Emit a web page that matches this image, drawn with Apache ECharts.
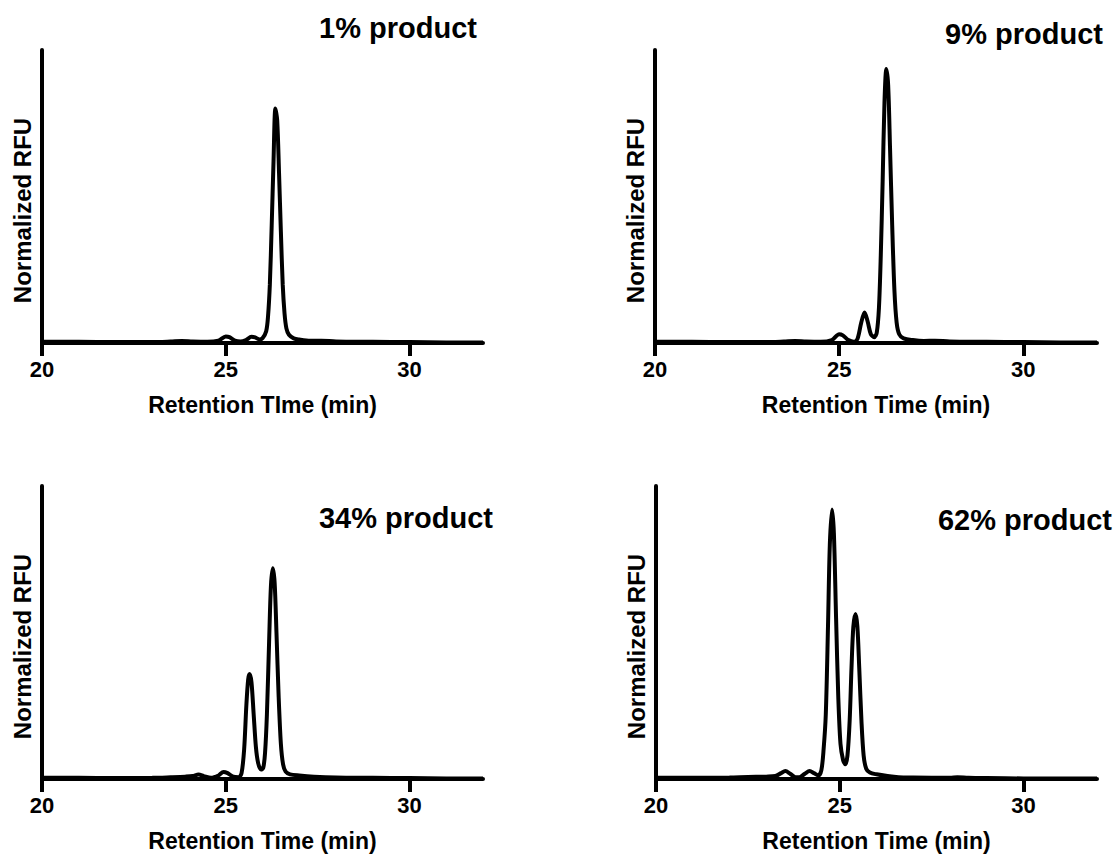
<!DOCTYPE html>
<html>
<head>
<meta charset="utf-8">
<script src="https://cdn.jsdelivr.net/npm/echarts@6/dist/echarts.min.js"></script>
<style>
html,body{margin:0;padding:0;background:#fff;}
#chart{width:1117px;height:855px;}
</style>
</head>
<body>
<div id="chart"></div>
<script>
// ---- data ----
const panelTitles = ['1% product', '9% product', '34% product', '62% product'];
const xAxisNames = ['Retention TIme (min)', 'Retention Time (min)', 'Retention Time (min)', 'Retention Time (min)'];
const yAxisName = 'Normalized RFU';
const xTickValues = [20, 25, 30];
const xRange = [20, 32];

const p1Time = [20, 21, 22, 23, 23.5, 23.8, 24.1, 24.5, 24.8, 25.0, 25.1, 25.25, 25.4, 25.55, 25.7, 25.8, 25.92, 26.0, 26.1, 26.15, 26.2, 26.25, 26.3, 26.35, 26.4, 26.45, 26.5, 26.55, 26.6, 26.65, 26.72, 26.85, 27.0, 27.3, 27.6, 28, 29, 30, 31, 32];
const p1Signal = [0.004, 0.004, 0.003, 0.003, 0.005, 0.007, 0.005, 0.004, 0.008, 0.022, 0.02, 0.008, 0.005, 0.01, 0.021, 0.019, 0.012, 0.016, 0.04, 0.09, 0.2, 0.4, 0.62, 0.8, 0.76, 0.58, 0.38, 0.2, 0.1, 0.05, 0.028, 0.016, 0.012, 0.008, 0.008, 0.005, 0.004, 0.003, 0.002, 0.002];

const p2Time = [20, 21, 22, 23, 23.5, 23.8, 24.1, 24.5, 24.8, 25.0, 25.1, 25.25, 25.4, 25.5, 25.6, 25.69, 25.77, 25.86, 25.95, 26.02, 26.08, 26.13, 26.18, 26.23, 26.28, 26.33, 26.38, 26.44, 26.5, 26.56, 26.63, 26.75, 27.0, 27.3, 27.6, 28, 29, 30, 31, 32];
const p2Signal = [0.004, 0.004, 0.003, 0.003, 0.005, 0.007, 0.005, 0.004, 0.01, 0.03, 0.026, 0.01, 0.004, 0.015, 0.07, 0.104, 0.075, 0.03, 0.02, 0.035, 0.12, 0.3, 0.55, 0.82, 0.935, 0.88, 0.67, 0.4, 0.18, 0.07, 0.03, 0.016, 0.01, 0.007, 0.008, 0.005, 0.004, 0.003, 0.002, 0.002];

const p3Time = [20, 21, 22, 23, 23.5, 23.9, 24.1, 24.26, 24.4, 24.6, 24.8, 24.94, 25.05, 25.2, 25.35, 25.43, 25.5, 25.56, 25.61, 25.65, 25.7, 25.76, 25.82, 25.88, 25.96, 26.02, 26.07, 26.12, 26.18, 26.23, 26.28, 26.33, 26.38, 26.44, 26.5, 26.56, 26.63, 26.75, 27.0, 27.4, 28, 29, 30, 31, 32];
const p3Signal = [0.004, 0.004, 0.003, 0.004, 0.006, 0.008, 0.01, 0.015, 0.01, 0.004, 0.012, 0.024, 0.02, 0.008, 0.006, 0.02, 0.1, 0.25, 0.34, 0.358, 0.33, 0.22, 0.11, 0.055, 0.032, 0.038, 0.09, 0.22, 0.47, 0.66, 0.719, 0.67, 0.5, 0.28, 0.12, 0.05, 0.025, 0.016, 0.012, 0.008, 0.005, 0.004, 0.003, 0.002, 0.002];

const p4Time = [20, 21, 22, 22.5, 23.0, 23.25, 23.4, 23.52, 23.65, 23.8, 23.9, 24.05, 24.18, 24.3, 24.42, 24.5, 24.56, 24.62, 24.68, 24.73, 24.79, 24.84, 24.9, 24.96, 25.02, 25.09, 25.15, 25.21, 25.27, 25.32, 25.37, 25.43, 25.48, 25.53, 25.59, 25.65, 25.72, 25.82, 26.0, 26.3, 26.6, 27.0, 28.0, 28.2, 28.5, 29, 30, 31, 32];
const p4Signal = [0.004, 0.004, 0.005, 0.007, 0.008, 0.01, 0.02, 0.027, 0.018, 0.006, 0.006, 0.018, 0.027, 0.02, 0.012, 0.03, 0.1, 0.22, 0.52, 0.8, 0.92, 0.84, 0.55, 0.28, 0.12, 0.065, 0.05, 0.08, 0.2, 0.38, 0.52, 0.563, 0.52, 0.38, 0.2, 0.08, 0.035, 0.022, 0.016, 0.01, 0.006, 0.005, 0.004, 0.006, 0.004, 0.003, 0.002, 0.002, 0.002];

const panelTimes = [p1Time, p2Time, p3Time, p4Time];
const panelSignals = [p1Signal, p2Signal, p3Signal, p4Signal];

// ---- layout ----
const grids = [
  {left: 42, top: 50, width: 441, height: 293},
  {left: 655, top: 50, width: 442, height: 293},
  {left: 42, top: 486, width: 441, height: 293},
  {left: 656, top: 486, width: 441, height: 293}
];
const titlePos = [
  {right: 640, top: 13},
  {right: 14, top: 19},
  {right: 624, top: 503},
  {right: 5, top: 505}
];

const FONT = '"Liberation Sans", Arial, Helvetica, sans-serif';

const option = {
  backgroundColor: '#fff',
  animation: false,
  title: panelTitles.map((t, i) => ({
    text: t,
    right: titlePos[i].right,
    top: titlePos[i].top,
    padding: 0,
    textStyle: {fontFamily: FONT, fontWeight: 'bold', fontSize: 29, color: '#000'}
  })),
  grid: grids,
  xAxis: grids.map((g, i) => ({
    type: 'value',
    gridIndex: i,
    min: xRange[0],
    max: xRange[1],
    interval: 5,
    name: xAxisNames[i],
    nameLocation: 'middle',
    nameGap: 50,
    nameTextStyle: {fontFamily: FONT, fontWeight: 'bold', fontSize: 23, color: '#000'},
    axisLine: {show: true, onZero: false, lineStyle: {color: '#000', width: 4}},
    axisTick: {show: true, length: 13, customValues: xTickValues, lineStyle: {color: '#000', width: 4}},
    axisLabel: {show: true, margin: 15, customValues: xTickValues, fontFamily: FONT, fontWeight: 'bold', fontSize: 22, color: '#000'},
    splitLine: {show: false}
  })),
  yAxis: grids.map((g, i) => ({
    type: 'value',
    gridIndex: i,
    min: 0,
    max: 1,
    name: yAxisName,
    nameLocation: 'middle',
    nameGap: 8,
    nameTextStyle: {fontFamily: FONT, fontWeight: 'bold', fontSize: 24, color: '#000', padding: [0, 28, 0, 0]},
    axisLine: {show: true, lineStyle: {color: '#000', width: 4}},
    axisTick: {show: false},
    axisLabel: {show: false},
    splitLine: {show: false}
  })),
  series: panelTimes.map((times, i) => ({
    type: 'line',
    xAxisIndex: i,
    yAxisIndex: i,
    data: times.map((t, k) => [t, panelSignals[i][k]]),
    showSymbol: false,
    smooth: 0.3,
    lineStyle: {color: '#000', width: 4},
    z: 1
  }))
};

const chart = echarts.init(document.getElementById('chart'), null, {renderer: 'svg'});
chart.setOption(option);
</script>
</body>
</html>
